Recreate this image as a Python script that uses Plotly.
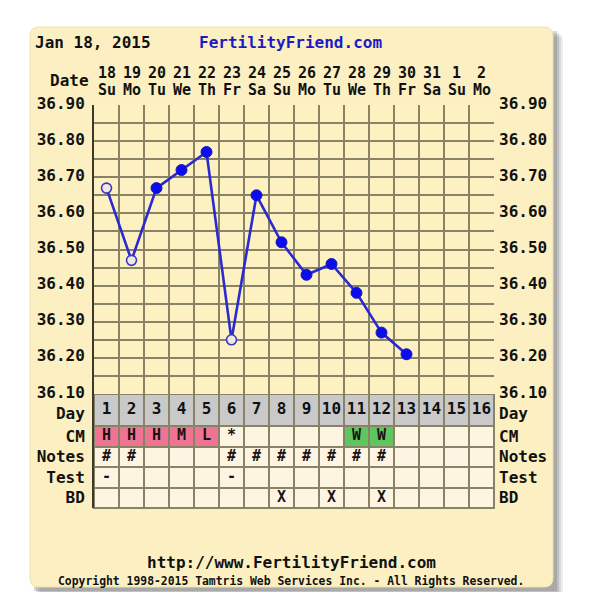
import plotly.graph_objects as go

# page body has an 8px margin; the figure is sized to fit inside the window
OX, OY = 8, 8
W, H = 579, 584
FONT = "DejaVu Sans Mono"

# ---------------- data ----------------
days = list(range(1, 17))
dates = ["18", "19", "20", "21", "22", "23", "24", "25", "26", "27", "28", "29", "30", "31", "1", "2"]
weekdays = ["Su", "Mo", "Tu", "We", "Th", "Fr", "Sa", "Su", "Mo", "Tu", "We", "Th", "Fr", "Sa", "Su", "Mo"]

temp_days = [1, 2, 3, 4, 5, 6, 7, 8, 9, 10, 11, 12, 13]
temps = [36.67, 36.47, 36.67, 36.72, 36.77, 36.25, 36.65, 36.52, 36.43, 36.46, 36.38, 36.27, 36.21]
open_days = [1, 2, 6]

temp_tickvals = [36.10, 36.15, 36.20, 36.25, 36.30, 36.35, 36.40, 36.45, 36.50,
                 36.55, 36.60, 36.65, 36.70, 36.75, 36.80, 36.85, 36.90]
temp_ticktext = ["36.10", "", "36.20", "", "36.30", "", "36.40", "", "36.50",
                 "", "36.60", "", "36.70", "", "36.80", "", "36.90"]

row_labels = ["CM", "Notes", "Test", "BD"]
cm = ["H", "H", "H", "M", "L", "*", "", "", "", "", "W", "W", "", "", "", ""]
notes = ["#", "#", "", "", "", "#", "#", "#", "#", "#", "#", "#", "", "", "", ""]
test = ["-", "", "", "", "", "-", "", "", "", "", "", "", "", "", "", ""]
bd = ["", "", "", "", "", "", "", "X", "", "X", "", "X", "", "", "", ""]
cm_color = {"H": 1, "M": 1, "L": 1, "W": 2}

title_date = "Jan 18, 2015"
site = "FertilityFriend.com"
footer_url = "http://www.FertilityFriend.com"
copyright_txt = "Copyright 1998-2015 Tamtris Web Services Inc. - All Rights Reserved."

# ---------------- styling ----------------
CARD = "#fcf0c3"
PLOTBG = "#fdf1c2"
CELL = "#fdf5e2"
PINK = "#ef7393"
GREEN = "#5fc65f"
GRAY = "#c9c9c9"
GRID = "#888266"
BORDER = "#3c3a2c"
BLUE_LINE = "#2a2ad0"
BLUE_DOT = "#0c0cf0"
BIG = 16


def px(x):
    return (x - OX) / W


def py(y):
    return 1 - (y - OY) / H


X0, X1 = 94, 494
T0, T1 = 105, 394
D1 = 426
B1 = 508

fig = go.Figure()

# table backgrounds (heatmaps)
fig.add_trace(go.Heatmap(
    x=days, y=[0], z=[[1 for _ in days]],
    colorscale=[[0, GRAY], [1, GRAY]], showscale=False,
    xgap=2, ygap=2, hoverinfo="skip", xaxis="x", yaxis="y2"))

rows = [cm, notes, test, bd]
zrows = [[cm_color.get(v, 0) for v in cm], [0] * 16, [0] * 16, [0] * 16]
fig.add_trace(go.Heatmap(
    x=days, y=[0, 1, 2, 3], z=zrows, zmin=0, zmax=2,
    colorscale=[[0, CELL], [0.33, CELL], [0.33, PINK], [0.66, PINK], [0.66, GREEN], [1, GREEN]],
    showscale=False, xgap=2, ygap=2, hoverinfo="skip", xaxis="x", yaxis="y3"))

# table text
fig.add_trace(go.Scatter(
    x=days, y=[0] * 16, mode="text", text=[str(d) for d in days],
    textfont=dict(family=FONT, size=BIG, color="#111111", weight="bold"),
    hoverinfo="skip", showlegend=False, xaxis="x", yaxis="y2"))

tx, ty, tt = [], [], []
for r, row in enumerate(rows):
    for d, v in zip(days, row):
        if v:
            tx.append(d)
            ty.append(r)
            tt.append(v)
fig.add_trace(go.Scatter(
    x=tx, y=ty, mode="text", text=tt,
    textfont=dict(family=FONT, size=15, color="#1a1212", weight="bold"),
    hoverinfo="skip", showlegend=False, xaxis="x", yaxis="y3"))

# temperature line
fig.add_trace(go.Scatter(
    x=temp_days, y=temps, mode="lines",
    line=dict(color=BLUE_LINE, width=2.6),
    hoverinfo="skip", showlegend=False, xaxis="x", yaxis="y"))

fx = [d for d in temp_days if d not in open_days]
fy = [t for d, t in zip(temp_days, temps) if d not in open_days]
ox = [d for d in temp_days if d in open_days]
oy = [t for d, t in zip(temp_days, temps) if d in open_days]
fig.add_trace(go.Scatter(
    x=fx, y=fy, mode="markers",
    marker=dict(size=11, color=BLUE_DOT, line=dict(color="#1a1ab0", width=1)),
    showlegend=False, xaxis="x", yaxis="y"))
fig.add_trace(go.Scatter(
    x=ox, y=oy, mode="markers",
    marker=dict(size=10, color="#efe6e6", symbol="circle", line=dict(color="#3a3ac0", width=1.6)),
    showlegend=False, xaxis="x", yaxis="y"))

# dummy traces for right-side overlay axes
for ax in ["y4", "y5", "y6"]:
    fig.add_trace(go.Scatter(x=[None], y=[None], xaxis="x", yaxis=ax,
                             showlegend=False, hoverinfo="skip"))

tickfont = dict(family=FONT, size=BIG, color="#111111", weight="bold")

shapes = []
# card shadow
for off, op in [(10, 0.10), (8, 0.14), (6, 0.18), (4, 0.22)]:
    shapes.append(dict(type="rect", xref="paper", yref="paper",
                       x0=px(30 + off), x1=px(553 + off), y0=py(587 + off), y1=py(27 + off),
                       fillcolor="#555555", opacity=op, line=dict(width=0), layer="below"))
# card (rounded)
cx0, cx1, cy0, cy1, rr = 30, 553, 27, 587, 9
path = (f"M {px(cx0 + rr)},{py(cy0)} L {px(cx1 - rr)},{py(cy0)} "
        f"Q {px(cx1)},{py(cy0)} {px(cx1)},{py(cy0 + rr)} "
        f"L {px(cx1)},{py(cy1 - rr)} Q {px(cx1)},{py(cy1)} {px(cx1 - rr)},{py(cy1)} "
        f"L {px(cx0 + rr)},{py(cy1)} Q {px(cx0)},{py(cy1)} {px(cx0)},{py(cy1 - rr)} "
        f"L {px(cx0)},{py(cy0 + rr)} Q {px(cx0)},{py(cy0)} {px(cx0 + rr)},{py(cy0)} Z")
shapes.append(dict(type="path", path=path, xref="paper", yref="paper",
                   fillcolor=CARD, line=dict(color="#efe2b0", width=1), layer="below"))
# plot area background
shapes.append(dict(type="rect", xref="paper", yref="paper",
                   x0=px(X0), x1=px(X1), y0=py(T1), y1=py(T0),
                   fillcolor=PLOTBG, line=dict(width=0), layer="below"))
# table grid background
shapes.append(dict(type="rect", xref="paper", yref="paper",
                   x0=px(X0) - 1 / W, x1=px(X1) + 1 / W, y0=py(B1) - 1 / H, y1=py(T1),
                   fillcolor=GRID, line=dict(width=0), layer="below"))

annotations = []
annotations.append(dict(text=title_date, x=px(33), y=py(42), xref="paper", yref="paper",
                        xanchor="left", yanchor="middle", showarrow=False,
                        font=dict(family=FONT, size=BIG, color="#111111", weight="bold")))
annotations.append(dict(text=site, x=px(197), y=py(42), xref="paper", yref="paper",
                        xanchor="left", yanchor="middle", showarrow=False,
                        font=dict(family=FONT, size=BIG, color="#1c1cc4", weight="bold")))
annotations.append(dict(text="Date", x=px(91), y=py(80), xref="paper", yref="paper",
                        xanchor="right", yanchor="middle", showarrow=False,
                        font=dict(family=FONT, size=BIG, color="#111111", weight="bold")))
for d, dt, wd in zip(days, dates, weekdays):
    annotations.append(dict(text=dt, x=d, y=py(73), xref="x", yref="paper",
                            xanchor="center", yanchor="middle", showarrow=False,
                            font=dict(family=FONT, size=15, color="#111111", weight="bold")))
    annotations.append(dict(text=wd, x=d, y=py(90), xref="x", yref="paper",
                            xanchor="center", yanchor="middle", showarrow=False,
                            font=dict(family=FONT, size=15, color="#111111", weight="bold")))
annotations.append(dict(text=footer_url, x=px(291), y=py(562), xref="paper", yref="paper",
                        xanchor="center", yanchor="middle", showarrow=False,
                        font=dict(family=FONT, size=BIG, color="#111111", weight="bold")))
annotations.append(dict(text=copyright_txt, x=px(291), y=py(581), xref="paper", yref="paper",
                        xanchor="center", yanchor="middle", showarrow=False,
                        font=dict(family=FONT, size=11.4, color="#111111", weight="bold")))

common_y = dict(showgrid=False, zeroline=False, ticks="", fixedrange=True,
                tickfont=tickfont, ticklabelstandoff=4, automargin=False)

fig.update_layout(
    width=W, height=H,
    margin=dict(l=0, r=0, t=0, b=0, pad=0, autoexpand=False),
    paper_bgcolor="white",
    plot_bgcolor="rgba(0,0,0,0)",
    showlegend=False,
    shapes=shapes,
    annotations=annotations,
    xaxis=dict(domain=[px(X0), px(X1)], range=[0.5, 16.5], anchor="y",
               showgrid=True, gridcolor=GRID, gridwidth=1.8, tick0=0.5, dtick=1,
               showticklabels=False, zeroline=False, ticks="", fixedrange=True,
               automargin=False),
    yaxis=dict(domain=[py(T1), py(T0)], range=[36.10, 36.90], anchor="x",
               tickvals=temp_tickvals, ticktext=temp_ticktext,
               showgrid=True, gridcolor=GRID, gridwidth=1.8, zeroline=False, ticks="",
               tickfont=tickfont, ticklabelstandoff=4, fixedrange=True, automargin=False,
               ticklabelshift=-2,
               showline=True, linecolor=BORDER, linewidth=2),
    yaxis2=dict(domain=[py(D1), py(T1)], range=[-0.5, 0.5], anchor="x",
                tickvals=[0], ticktext=["Day"], showline=True, linecolor=BORDER, linewidth=2,
                ticklabelshift=3, **common_y),
    yaxis3=dict(domain=[py(B1), py(D1)], range=[3.5, -0.5], anchor="x",
                tickvals=[0, 1, 2, 3], ticktext=row_labels, showline=True,
                linecolor=BORDER, linewidth=2, **common_y),
    yaxis4=dict(overlaying="y", side="right", anchor="x", range=[36.10, 36.90],
                tickvals=temp_tickvals, ticktext=temp_ticktext, ticklabelshift=-2, **common_y),
    yaxis5=dict(overlaying="y2", side="right", anchor="x", range=[-0.5, 0.5],
                tickvals=[0], ticktext=["Day"], ticklabelshift=3, **common_y),
    yaxis6=dict(overlaying="y3", side="right", anchor="x", range=[3.5, -0.5],
                tickvals=[0, 1, 2, 3], ticktext=row_labels, **common_y),
)

fig.write_html("out.html", config=dict(displayModeBar=False))
